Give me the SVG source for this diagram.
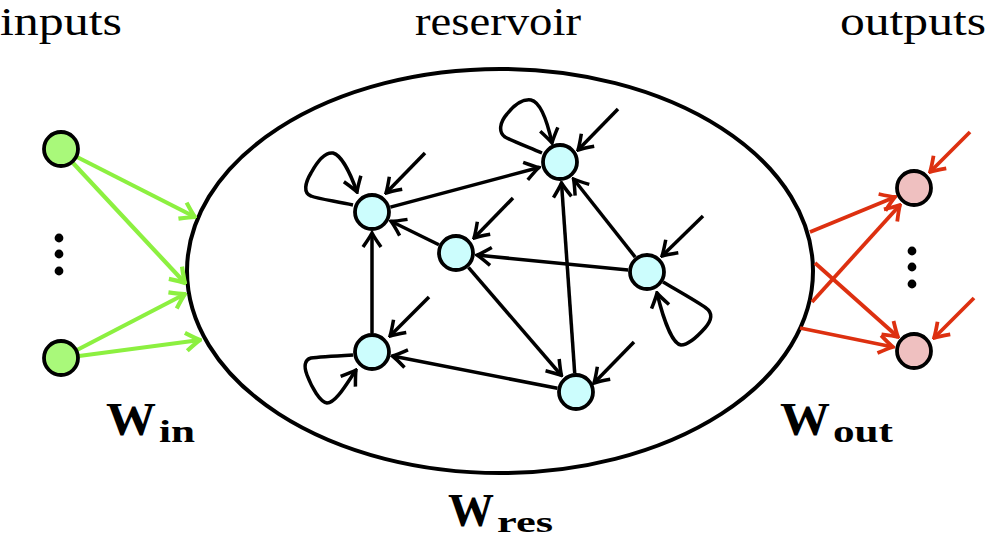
<svg xmlns="http://www.w3.org/2000/svg" width="989" height="539" viewBox="0 0 989 539">
<style>
.lbl{font-family:"Liberation Serif","Times New Roman",serif;font-size:40px;fill:#000}
.wb{font-family:"Liberation Serif","Times New Roman",serif;font-weight:bold;fill:#000}
.node{stroke:#000;stroke-width:3.8}
.res{fill:#ccfdfd}
.inp{fill:#a9f97a}
.out{fill:#efc0c0}
.e{fill:none;stroke:#000;stroke-width:3.5;marker-end:url(#ak)}
.g{fill:none;stroke:#8cf040;stroke-width:4.2;marker-end:url(#ag)}
.r{fill:none;stroke:#dd3010;stroke-width:3.8;marker-end:url(#ar)}
.dot{fill:#000}
</style>
<defs>
<marker id="ak" viewBox="-17 -12 19 24" refX="0" refY="0" markerWidth="19" markerHeight="24" markerUnits="userSpaceOnUse" orient="auto">
<path d="M-14,-9 Q-4,-2 0,0 Q-4,2 -14,9" fill="none" stroke="#000" stroke-width="3.5"/>
</marker>
<marker id="ag" viewBox="-17 -12 19 24" refX="0" refY="0" markerWidth="19" markerHeight="24" markerUnits="userSpaceOnUse" orient="auto">
<path d="M-14,-9 Q-4,-2 0,0 Q-4,2 -14,9" fill="none" stroke="#8cf040" stroke-width="4.2"/>
</marker>
<marker id="ar" viewBox="-17 -12 19 24" refX="0" refY="0" markerWidth="19" markerHeight="24" markerUnits="userSpaceOnUse" orient="auto">
<path d="M-14,-9 Q-4,-2 0,0 Q-4,2 -14,9" fill="none" stroke="#dd3010" stroke-width="3.8"/>
</marker>
</defs>
<rect width="989" height="539" fill="#fff"/>

<text class="lbl" x="0" y="35" textLength="122" lengthAdjust="spacingAndGlyphs">inputs</text>
<text class="lbl" x="415" y="35" textLength="166" lengthAdjust="spacingAndGlyphs">reservoir</text>
<text class="lbl" x="840" y="35" textLength="146" lengthAdjust="spacingAndGlyphs">outputs</text>

<g id="reservoir">
<ellipse cx="500" cy="271" rx="313" ry="202" fill="none" stroke="#000" stroke-width="4"/>
</g>

<g id="connectors">
<path class="g" d="M77,157 L195,217"/>
<path class="g" d="M73,163 L185,283"/>
<path class="g" d="M77,350 L185,294"/>
<path class="g" d="M79,356 L200,340"/>
<path class="r" d="M810,232 L895,197"/>
<path class="r" d="M812,302 L900,205"/>
<path class="r" d="M815,263 L898,337"/>
<path class="r" d="M800,328 L893,347"/>
<path class="r" d="M970,132 L930,172"/>
<path class="r" d="M974,298 L934,338"/>
<path class="e" d="M390.4,207.1 L539,167.5"/>
<path class="e" d="M438.9,244.7 L391,221.3"/>
<path class="e" d="M628.1,270.1 L477,255.1"/>
<path class="e" d="M635.2,257.1 L573.5,179"/>
<path class="e" d="M468.4,267.4 L561.5,375.5"/>
<path class="e" d="M574.7,373.1 L561.5,183"/>
<path class="e" d="M557.4,388.3 L392.5,356"/>
<path class="e" d="M372,333 L372,233"/>
<path class="e" d="M425,153 L386,193"/>
<path class="e" d="M618,109 L578,150"/>
<path class="e" d="M513,198 L474,238"/>
<path class="e" d="M703,216 L662,256"/>
<path class="e" d="M429,297 L390,336"/>
<path class="e" d="M634,342 L594,383"/>
<path class="e" d="M353,205 C335,201 318,199 311,196 C303,193 305,183 311,173 C318,160 326,152 333,153 C341,155 350,172 357,192"/>
<path class="e" d="M542,153 C528,147 512,141 505,137 C498,132 500,122 507,114 C515,104 524,99 531,100 C540,102 547,120 552,143"/>
<path class="e" d="M663,282 C680,292 698,302 706,308 C713,313 712,320 705,328 C697,337 688,345 681,345 C673,344 664,322 657,293"/>
<path class="e" d="M353,355 C335,356 318,357 311,358 C304,360 304,367 307,375 C312,388 320,402 327,403 C336,403 347,383 356,370"/>
</g>

<g id="in1"><circle class="node inp" cx="61" cy="149" r="17"/></g>
<g id="in2"><circle class="node inp" cx="61" cy="358" r="17"/></g>
<g id="in-dots"><circle class="dot" cx="59" cy="238" r="4.4"/><circle class="dot" cx="59" cy="254" r="4.4"/><circle class="dot" cx="59" cy="271" r="4.4"/></g>

<g id="nA"><circle class="node res" cx="372" cy="212" r="17"/></g>
<g id="nB"><circle class="node res" cx="560" cy="162" r="17"/></g>
<g id="nC"><circle class="node res" cx="456" cy="253" r="17"/></g>
<g id="nD"><circle class="node res" cx="647" cy="272" r="17"/></g>
<g id="nE"><circle class="node res" cx="372" cy="352" r="17"/></g>
<g id="nF"><circle class="node res" cx="576" cy="392" r="17"/></g>

<g id="out1"><circle class="node out" cx="914" cy="188" r="17"/></g>
<g id="out2"><circle class="node out" cx="914" cy="351" r="17"/></g>
<g id="out-dots"><circle class="dot" cx="912" cy="251" r="4.4"/><circle class="dot" cx="912" cy="267" r="4.4"/><circle class="dot" cx="912" cy="284" r="4.4"/></g>

<g id="label-win">
<text class="wb" x="106" y="435" font-size="46" textLength="50" lengthAdjust="spacingAndGlyphs">W</text>
<text class="wb" x="159" y="442" font-size="32" textLength="36" lengthAdjust="spacingAndGlyphs">in</text>
</g>
<g id="label-wout">
<text class="wb" x="780" y="435" font-size="46" textLength="50" lengthAdjust="spacingAndGlyphs">W</text>
<text class="wb" x="833" y="442" font-size="32" textLength="60" lengthAdjust="spacingAndGlyphs">out</text>
</g>
<g id="label-wres">
<text class="wb" x="448" y="526" font-size="46" textLength="46" lengthAdjust="spacingAndGlyphs">W</text>
<text class="wb" x="497" y="532" font-size="30" textLength="56" lengthAdjust="spacingAndGlyphs">res</text>
</g>
</svg>
